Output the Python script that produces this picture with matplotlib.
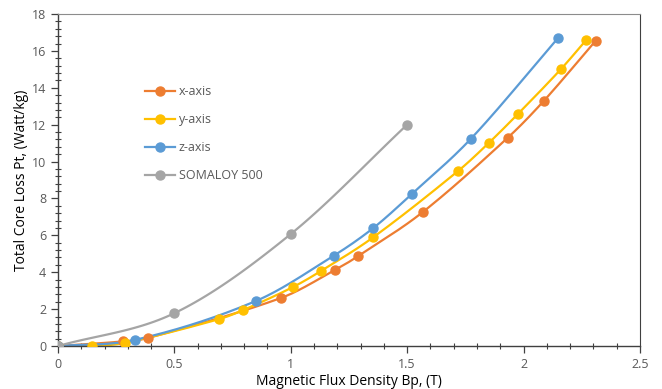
import numpy as np
import matplotlib
matplotlib.use('Agg')
import matplotlib.pyplot as plt
from matplotlib.ticker import MultipleLocator

plt.rcParams['font.family'] = ['Open Sans', 'DejaVu Sans']

# Data
bx_x = [0, 0.28, 0.385, 0.957, 1.19, 1.29, 1.568, 1.933, 2.088, 2.31]
pt_x = [0, 0.25, 0.43, 2.6, 4.12, 4.88, 7.27, 11.3, 13.3, 16.55]

bx_y = [0, 0.146, 0.287, 0.69, 0.796, 1.01, 1.13, 1.355, 1.72, 1.85, 1.976, 2.16, 2.27]
pt_y = [0, 0.0, 0.17, 1.45, 1.95, 3.2, 4.07, 5.9, 9.5, 11.0, 12.58, 15.0, 16.6]

bx_z = [0, 0.33, 0.85, 1.185, 1.355, 1.52, 1.775, 2.147]
pt_z = [0, 0.33, 2.44, 4.9, 6.4, 8.24, 11.25, 16.68]

bx_s = [0, 0.5, 1.0, 1.5]
pt_s = [0, 1.78, 6.07, 12.0]

series = [
    ('x-axis', bx_x, pt_x, '#ED7D31'),
    ('y-axis', bx_y, pt_y, '#FFC000'),
    ('z-axis', bx_z, pt_z, '#5B9BD5'),
    ('SOMALOY 500', bx_s, pt_s, '#A5A5A5'),
]


def smooth(xs, ys, n=30):
    # smoothed line through the points (Hermite with central-difference tangents)
    x = np.asarray(xs, float)
    y = np.asarray(ys, float)
    k = len(x)
    m = np.zeros(k)
    for i in range(k):
        if i == 0:
            m[i] = (y[1] - y[0]) / (x[1] - x[0])
        elif i == k - 1:
            m[i] = (y[-1] - y[-2]) / (x[-1] - x[-2])
        else:
            m[i] = (y[i + 1] - y[i - 1]) / (x[i + 1] - x[i - 1])
    ox, oy = [], []
    for i in range(k - 1):
        h = x[i + 1] - x[i]
        s = np.linspace(0, 1, n)
        h00 = 2 * s ** 3 - 3 * s ** 2 + 1
        h10 = s ** 3 - 2 * s ** 2 + s
        h01 = -2 * s ** 3 + 3 * s ** 2
        h11 = s ** 3 - s ** 2
        ox.append(x[i] + s * h)
        oy.append(h00 * y[i] + h10 * h * m[i] + h01 * y[i + 1] + h11 * h * m[i + 1])
    return np.concatenate(ox), np.concatenate(oy)


fig = plt.figure(figsize=(6.62, 3.89), dpi=100)
ax = fig.add_axes([0.0876, 0.1105, 0.879, 0.8535])

for name, xs, ys, c in series:
    sx, sy = smooth(xs, ys)
    ax.plot(sx, sy, color=c, lw=1.6, zorder=2)
    ax.plot(xs, ys, 'o', color=c, ms=6.5, zorder=3)
    ax.plot([], [], '-o', color=c, lw=1.6, ms=6.5, label=name)

ax.set_xlim(0, 2.5)
ax.set_ylim(0, 18)
ax.xaxis.set_minor_locator(MultipleLocator(0.1))
ax.yaxis.set_major_locator(MultipleLocator(2))
ax.yaxis.set_minor_locator(MultipleLocator(0.4))
ax.set_xticks([0, 0.5, 1, 1.5, 2, 2.5])
ax.set_xticklabels(['0', '0.5', '1', '1.5', '2', '2.5'])

ax.tick_params(which='major', direction='out', length=5, width=0.9, color='#404040',
               labelsize=9, labelcolor='#595959')
ax.tick_params(which='minor', direction='inout', length=5, width=0.8, color='#404040')

for s in ['left', 'bottom']:
    ax.spines[s].set_color('#404040')
    ax.spines[s].set_linewidth(1.0)
ax.spines['top'].set_color('#8c8c8c')
ax.spines['right'].set_color('#404040')

ax.set_xlabel('Magnetic Flux Density Bp, (T)', fontsize=10, labelpad=2)
ax.set_ylabel('Total Core Loss Pt, (Watt/kg)', fontsize=10, labelpad=2)

leg = ax.legend(loc='upper left', bbox_to_anchor=(0.13, 0.82), frameon=False,
                fontsize=9, labelspacing=1.2, handlelength=2.4, handletextpad=0.3)
for t in leg.get_texts():
    t.set_color('#595959')

fig.savefig('out.png', dpi=100)
